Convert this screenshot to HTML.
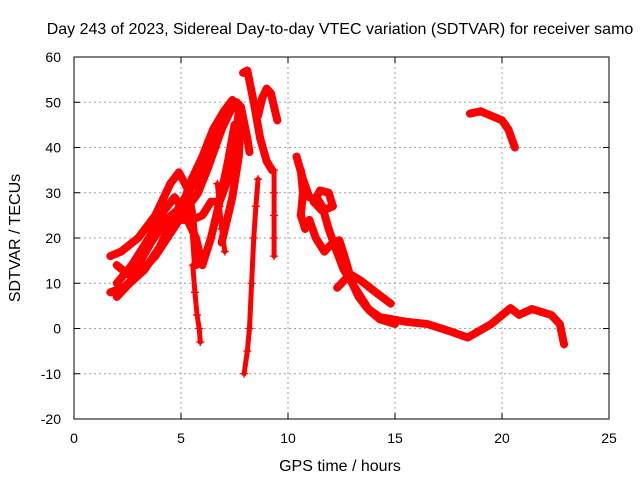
<!DOCTYPE html>
<html><head><meta charset="utf-8"><style>
body{margin:0;background:#fff}
svg text{font-family:"Liberation Sans",sans-serif;fill:#000}
</style></head><body>
<svg id="chart" width="640" height="480" xmlns="http://www.w3.org/2000/svg">
<rect width="640" height="480" fill="#fff"/>
<text x="340" y="34" font-size="16" text-anchor="middle">Day 243 of 2023, Sidereal Day-to-day VTEC variation (SDTVAR) for receiver samo</text>
<text x="340" y="471" font-size="16" text-anchor="middle">GPS time / hours</text>
<text transform="translate(20,238) rotate(-90)" font-size="16" text-anchor="middle">SDTVAR / TECUs</text>
<g id="grid"></g><g id="marks"></g><g id="axes"></g>
</svg>
<script>
const xTicks=[0,5,10,15,20,25];
const yTicks=[-20,-10,0,10,20,30,40,50,60];
const t1=[[1.7,16],[2.2,17],[3,20],[3.8,25],[4.5,32],[4.9,34.5],[5.3,31],[5.5,26],[5.6,21],[5.7,14]];
const t2=[[1.7,8],[2.3,9],[3,12],[3.8,16],[4.5,21],[5.2,26],[5.8,30],[6.3,36],[6.9,44],[7.3,49],[7.6,50],[7.8,49],[8.1,42],[8.2,39]];
const t3=[[2,10],[2.7,14],[3.5,20],[4.2,26],[4.7,29],[5.0,27],[5.4,23],[5.7,20],[6.0,14],[6.4,20],[6.8,28],[7.2,37],[7.5,45],[7.8,46],[7.7,38],[7.4,29],[7.1,23],[6.9,19]];
const t4=[[2.0,14],[2.5,12],[3.0,14],[3.6,19],[4.3,24],[4.8,26],[5.2,29],[5.5,33],[6.0,38],[6.5,44],[7,48],[7.4,50.5],[7.7,48],[7.5,40],[7.2,33],[6.8,28],[6.4,28],[6.0,25],[5.5,24],[5.0,24]];
const t5=[[2.0,7],[2.6,10],[3.3,13],[4.0,18],[4.6,24],[5.1,28],[5.6,32],[6.1,36],[6.6,41],[7.1,46],[7.5,50]];
const t6=[[7.9,56.5],[8.1,57],[8.4,50],[8.7,42],[9.0,37],[9.25,35]];
const t7=[[8.6,47],[8.8,51],[9.0,53],[9.2,52],[9.4,48],[9.5,46]];
const d1=[[5.55,14],[5.65,8],[5.75,3],[5.85,0],[5.9,-3]];
const d2=[[6.7,32],[6.8,27],[6.9,22],[7.05,17]];
const d3=[[8.6,33],[8.5,27],[8.4,20],[8.3,10],[8.2,0],[8.1,-5],[7.95,-10]];
const d4=[[9.35,35],[9.35,30],[9.35,25],[9.35,20],[9.35,16]];
const t8=[[10.4,38],[10.7,33],[11.0,29],[11.4,28.5],[11.6,27],[11.9,22],[12.2,18],[12.6,13],[13.0,10],[13.4,7],[13.8,4],[14.3,2],[15,1]];
const t9=[[10.6,35],[10.7,30],[10.6,25],[10.8,22],[11.0,24],[11.3,20],[11.7,17],[12.1,19],[12.4,19.5],[12.7,15],[13.0,10],[13.3,7],[13.7,4.5],[14.3,2.5],[15.5,1.5],[16.5,1],[17.5,-0.5],[18.4,-2],[19.5,1],[20.4,4.5],[20.8,3],[21.4,4.3],[22.3,3],[22.7,1],[22.9,-3.5]];
const t10=[[11.2,28],[11.5,30.5],[11.9,30],[12.1,27],[11.6,26],[11.2,28]];
const t11=[[12.3,9],[12.9,12],[13.4,10.6],[14.1,8],[14.8,5.5]];
const t12=[[18.5,47.5],[19.0,48],[19.5,47],[20,46],[20.3,44],[20.6,40]];
const series=[t1,t2,t3,t4,t5,t6,t7,d1,d2,d3,d4,t8,t9,t10,t11,t12];
const X0=74,X1=609,Y0=419,Y1=57;
const xs=v=>X0+(v-0)/25*(X1-X0);
const ys=v=>Y0-(v+20)/80*(Y0-Y1);
const NS="http://www.w3.org/2000/svg";
const grid=document.getElementById('grid'),axes=document.getElementById('axes'),marks=document.getElementById('marks');
function mk(tag,attrs,parent){const e=document.createElementNS(NS,tag);for(const k in attrs)e.setAttribute(k,attrs[k]);parent.appendChild(e);return e;}
xTicks.forEach(t=>{
 if(t>0&&t<25){const g=mk('line',{x1:xs(t),x2:xs(t),y1:Y0,y2:Y1,stroke:'#a0a0a0','stroke-dasharray':'2,3'},grid);
 
 }
 mk('line',{x1:xs(t),x2:xs(t),y1:Y0,y2:Y0-6,stroke:'#000'},axes);
 mk('line',{x1:xs(t),x2:xs(t),y1:Y1,y2:Y1+6,stroke:'#000'},axes);
 const tx=mk('text',{x:xs(t),y:Y0+24,'font-size':14,'text-anchor':'middle'},axes);tx.textContent=t;
 
 
});
yTicks.forEach(t=>{
 if(t>-20&&t<60){const g=mk('line',{x1:X0,x2:X1,y1:ys(t),y2:ys(t),stroke:'#a0a0a0','stroke-dasharray':'2,3'},grid);
 
 }
 mk('line',{x1:X0,x2:X0+6,y1:ys(t),y2:ys(t),stroke:'#000'},axes);
 mk('line',{x1:X1,x2:X1-6,y1:ys(t),y2:ys(t),stroke:'#000'},axes);
 const tx=mk('text',{x:X0-13,y:ys(t)+5,'font-size':14,'text-anchor':'end'},axes);tx.textContent=t;
 
 
});
const fr=mk('rect',{x:X0,y:Y1,width:X1-X0,height:Y0-Y1,fill:'none',stroke:'#000'},axes);


series.forEach((s,i)=>{
 const p=mk('polyline',{points:s.map(d=>xs(d[0])+','+ys(d[1])).join(' '),fill:'none',stroke:'#f00','stroke-width':(i>=7&&i<=10)?5:8,'stroke-linejoin':'round','stroke-linecap':'round'},marks);
 
 
 s.forEach(d=>{const x=xs(d[0]),y=ys(d[1]);
  const m=mk('path',{d:`M${x-4},${y}h8M${x},${y-4}v8`,stroke:'#f00','stroke-width':1.3},marks);
  
  
 });
});
</script>
</body></html>
